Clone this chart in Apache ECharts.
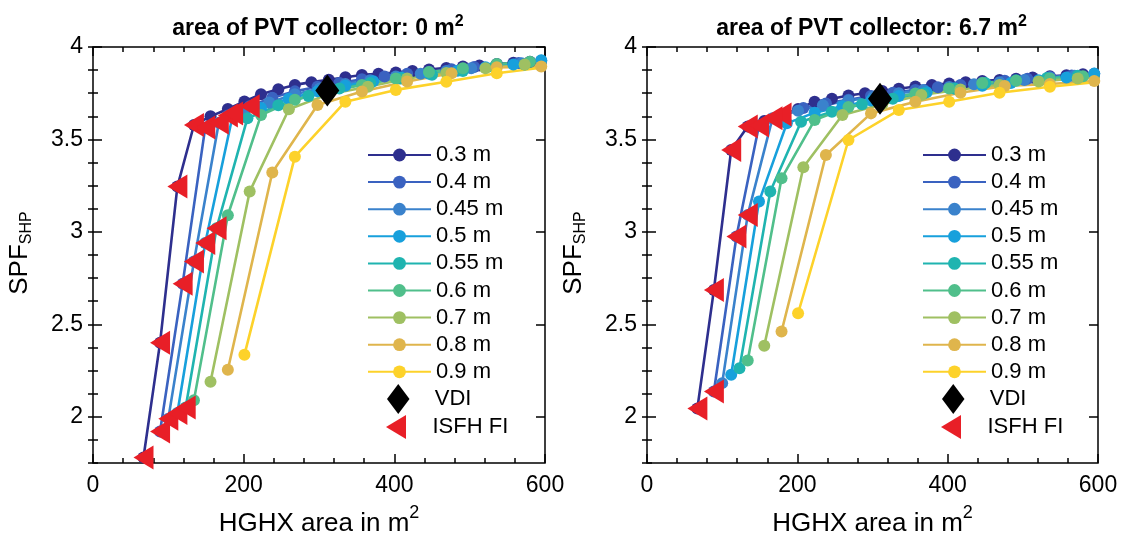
<!DOCTYPE html>
<html><head><meta charset="utf-8">
<script src="https://cdn.jsdelivr.net/npm/echarts@6/dist/echarts.min.js"></script>
<style>html,body{margin:0;padding:0;background:#fff}#c{width:1124px;height:538px}</style>
</head><body><div id="c"></div>
<script>
// ---------------- data ----------------
const spacingNames = ['0.3 m', '0.4 m', '0.45 m', '0.5 m', '0.55 m', '0.6 m', '0.7 m', '0.8 m', '0.9 m'];
const panelTitles = ['area of PVT collector: 0 m', 'area of PVT collector: 6.7 m'];
const xTickLabels = [0, 200, 400, 600];
const yTickLabels = [2, 2.5, 3, 3.5, 4];

// HGHX area (m²) per pipe spacing
const hghx03  = [67, 89, 112, 134, 156, 179, 201, 223, 246, 268, 290, 313, 335, 357, 379, 402, 424, 446, 469, 491, 513, 536, 558, 580, 603];
const hghx04  = [89, 119, 149, 179, 208, 238, 268, 298, 327, 357, 387, 417, 446, 476, 506, 536, 565, 595];
const hghx045 = [100, 134, 167, 201, 234, 268, 301, 335, 368, 402, 435, 469, 502, 536, 569, 603];
const hghx05  = [112, 149, 186, 223, 260, 298, 335, 372, 409, 446, 484, 521, 558, 595];
const hghx055 = [123, 164, 205, 246, 286, 327, 368, 409, 450, 491, 532, 573, 614];
const hghx06  = [134, 179, 223, 268, 313, 357, 402, 446, 491, 536, 580, 625];
const hghx07  = [156, 208, 260, 313, 365, 417, 469, 521, 573, 625];
const hghx08  = [179, 238, 298, 357, 417, 476, 536, 595];
const hghx09  = [201, 268, 335, 402, 469, 536, 603];

// SPF_SHP, PVT area 0 m²
const spfA0_03  = [1.78, 2.40, 3.245, 3.578, 3.625, 3.665, 3.705, 3.745, 3.772, 3.795, 3.81, 3.823, 3.836, 3.849, 3.855, 3.862, 3.87, 3.878, 3.887, 3.894, 3.90, 3.908, 3.915, 3.92, 3.926];
const spfA0_04  = [1.92, 2.72, 3.565, 3.63, 3.68, 3.725, 3.76, 3.785, 3.805, 3.825, 3.84, 3.855, 3.866, 3.88, 3.892, 3.905, 3.914, 3.925];
const spfA0_045 = [1.99, 2.84, 3.59, 3.65, 3.70, 3.745, 3.775, 3.80, 3.82, 3.84, 3.855, 3.87, 3.885, 3.90, 3.912, 3.925];
const spfA0_05  = [2.02, 2.94, 3.64, 3.67, 3.72, 3.76, 3.79, 3.815, 3.835, 3.855, 3.872, 3.89, 3.905, 3.928];
const spfA0_055 = [2.05, 3.02, 3.615, 3.685, 3.735, 3.775, 3.805, 3.83, 3.85, 3.87, 3.89, 3.905, 3.92];
const spfA0_06  = [2.09, 3.09, 3.632, 3.715, 3.76, 3.795, 3.83, 3.865, 3.885, 3.908, 3.92, 3.93];
const spfA0_07  = [2.19, 3.218, 3.663, 3.745, 3.785, 3.83, 3.86, 3.885, 3.905, 3.915];
const spfA0_08  = [2.254, 3.321, 3.686, 3.759, 3.813, 3.858, 3.89, 3.895];
const spfA0_09  = [2.335, 3.407, 3.704, 3.768, 3.812, 3.858, 3.892];

// SPF_SHP, PVT area 6.7 m²
const spfA67_03  = [2.045, 2.686, 3.443, 3.57, 3.60, 3.63, 3.665, 3.704, 3.72, 3.738, 3.75, 3.762, 3.774, 3.786, 3.795, 3.803, 3.81, 3.816, 3.822, 3.828, 3.835, 3.842, 3.847, 3.852, 3.857];
const spfA67_04  = [2.137, 2.975, 3.575, 3.635, 3.67, 3.695, 3.715, 3.735, 3.752, 3.768, 3.782, 3.795, 3.806, 3.818, 3.828, 3.838, 3.846, 3.855];
const spfA67_045 = [2.182, 3.092, 3.615, 3.655, 3.685, 3.71, 3.73, 3.75, 3.768, 3.784, 3.798, 3.81, 3.822, 3.835, 3.845, 3.855];
const spfA67_05  = [2.227, 3.164, 3.587, 3.645, 3.68, 3.71, 3.735, 3.755, 3.775, 3.79, 3.805, 3.82, 3.835, 3.856];
const spfA67_055 = [2.263, 3.218, 3.596, 3.65, 3.69, 3.72, 3.748, 3.775, 3.805, 3.82, 3.832, 3.845, 3.858];
const spfA67_06  = [2.304, 3.29, 3.605, 3.675, 3.715, 3.748, 3.775, 3.805, 3.818, 3.83, 3.842, 3.85];
const spfA67_07  = [2.384, 3.35, 3.632, 3.69, 3.74, 3.77, 3.795, 3.814, 3.83, 3.84];
const spfA67_08  = [2.461, 3.416, 3.641, 3.704, 3.753, 3.789, 3.80, 3.816];
const spfA67_09  = [2.56, 3.497, 3.659, 3.704, 3.753, 3.785, 3.812];

// VDI design point [HGHX area, SPF]
const vdiA0  = [311, 3.765];
const vdiA67 = [310, 3.72];

// ISFH FI design points
const isfhA0X  = [67, 89, 112, 134, 89, 119, 149, 179, 208, 100, 134, 167, 112, 149, 186, 123, 164];
const isfhA0Y  = [1.78, 2.40, 3.245, 3.578, 1.92, 2.72, 3.565, 3.63, 3.68, 1.99, 2.84, 3.59, 2.02, 2.94, 3.64, 2.05, 3.02];
const isfhA67X = [67, 89, 112, 134, 89, 119, 149, 179, 134, 167];
const isfhA67Y = [2.045, 2.686, 3.443, 3.57, 2.137, 2.975, 3.575, 3.635, 3.092, 3.615];

// ---------------- styles ----------------
const FONT = '"Liberation Sans", Arial, Helvetica, sans-serif';
const lineColors = ['#2e2f8e', '#3a62c0', '#3a82cc', '#17a0dc', '#1fb4b0', '#50bf8b', '#9fc062', '#dfb54c', '#fdd22a'];
const DIAMOND = 'path://M12,0 L24,16 L12,32 L0,16 Z';
const TRI_LEFT = 'path://M0,12 L20,0 L20,24 Z';
const hghxBySpacing = [hghx03, hghx04, hghx045, hghx05, hghx055, hghx06, hghx07, hghx08, hghx09];
const spfByPanel = [
  [spfA0_03, spfA0_04, spfA0_045, spfA0_05, spfA0_055, spfA0_06, spfA0_07, spfA0_08, spfA0_09],
  [spfA67_03, spfA67_04, spfA67_045, spfA67_05, spfA67_055, spfA67_06, spfA67_07, spfA67_08, spfA67_09]
];
const vdiByPanel = [vdiA0, vdiA67];
const isfhByPanel = [[isfhA0X, isfhA0Y], [isfhA67X, isfhA67Y]];
const zip = (xs, ys) => xs.map((x, i) => [x, ys[i]]);

const panelLeft = [93, 647];
const panelWidth = [452, 451];
const tickStyle = { color: '#000', width: 1.5 };

const grid = [];
const xAxis = [];
const yAxis = [];
for (let p = 0; p < 2; p++) {
  grid.push({ left: panelLeft[p], top: 47, width: panelWidth[p], height: 416, show: true,
    borderColor: '#000', borderWidth: 1.5, backgroundColor: 'transparent' });
}
for (let p = 0; p < 2; p++) {
  // overlay grid: 2 .. 4 maps onto y = 47 .. 417
  grid.push({ left: panelLeft[p], top: 47, width: panelWidth[p], height: 370, show: false });
}
for (let p = 0; p < 2; p++) {
  ['bottom', 'top'].forEach(pos => xAxis.push({
    type: 'value', gridIndex: p, position: pos, min: xTickLabels[0], max: xTickLabels[xTickLabels.length - 1], interval: 200,
    axisLine: { show: false }, splitLine: { show: false },
    axisTick: { show: true, inside: true, length: 9, lineStyle: tickStyle },
    minorTick: { show: true, splitNumber: 5, length: 5, lineStyle: tickStyle },
    axisLabel: { show: pos === 'bottom', fontSize: 23, color: '#000', fontFamily: FONT, margin: 11 }
  }));
  ['left', 'right'].forEach(pos => yAxis.push({
    type: 'value', gridIndex: p, position: pos, min: 1.75, max: 4, interval: 0.125,
    axisLine: { show: false }, splitLine: { show: false },
    axisTick: { show: true, inside: true, length: 5, lineStyle: tickStyle },
    axisLabel: { show: false }
  }));
}
for (let p = 0; p < 2; p++) {
  xAxis.push({ type: 'value', gridIndex: 2 + p, min: 0, max: 600, show: false });
  ['left', 'right'].forEach(pos => yAxis.push({
    type: 'value', gridIndex: 2 + p, position: pos, min: yTickLabels[0], max: yTickLabels[yTickLabels.length - 1], interval: 0.5,
    axisLine: { show: false }, splitLine: { show: false },
    axisTick: { show: true, inside: true, length: 9, lineStyle: tickStyle },
    axisLabel: { show: pos === 'left', fontSize: 23, color: '#000', fontFamily: FONT, margin: 10 }
  }));
}

const series = [];
for (let p = 0; p < 2; p++) {
  const xi = p * 2, yi = p * 2;
  spacingNames.forEach((name, s) => {
    series.push({
      type: 'line', name, xAxisIndex: xi, yAxisIndex: yi, z: 3,
      data: zip(hghxBySpacing[s], spfByPanel[p][s]),
      symbol: 'circle', symbolSize: 12, showSymbol: true, showAllSymbol: true,
      lineStyle: { width: 2.6, color: lineColors[s] },
      itemStyle: { color: lineColors[s], opacity: 1 },
      clip: true, animation: false, silent: true
    });
  });
  series.push({
    type: 'scatter', name: 'VDI', xAxisIndex: xi, yAxisIndex: yi, z: 10,
    data: [vdiByPanel[p]], symbol: DIAMOND, symbolSize: [24, 32],
    itemStyle: { color: '#000', opacity: 1 }, animation: false, silent: true
  });
  series.push({
    type: 'scatter', name: 'ISFH FI', xAxisIndex: xi, yAxisIndex: yi, z: 11,
    data: zip(isfhByPanel[p][0], isfhByPanel[p][1]), symbol: TRI_LEFT, symbolSize: [20, 24],
    itemStyle: { color: '#e81f27', opacity: 1 }, animation: false, silent: true
  });
}

const legendText = { fontSize: 22, color: '#000', fontFamily: FONT, lineHeight: 22 };
const legend = [];
[367, 922].forEach(left => {
  legend.push({ orient: 'vertical', left, top: 144, padding: 0, itemWidth: 63, itemHeight: 16, itemGap: 5.1,
    selectedMode: false, data: spacingNames, textStyle: legendText });
  // the path icons keep their aspect, so their bounding box starts inside the 63 px slot
  legend.push({ orient: 'vertical', left: left + 20, top: 384, padding: 0, itemWidth: 63, itemHeight: 30,
    selectedMode: false, itemStyle: { opacity: 1 },
    data: [{ name: 'VDI', icon: DIAMOND, itemStyle: { color: '#000', opacity: 1 } }], textStyle: legendText });
  legend.push({ orient: 'vertical', left: left + 19, top: 415, padding: 0, itemWidth: 63, itemHeight: 24,
    selectedMode: false, itemStyle: { opacity: 1 },
    data: [{ name: 'ISFH FI', icon: TRI_LEFT, itemStyle: { color: '#e81f27', opacity: 1 } }], textStyle: legendText });
});

const supRich = (size, bold, mainLH, supLH) => ({
  a: { fontSize: size, fontWeight: bold ? 'bold' : 'normal', fontFamily: FONT, lineHeight: mainLH, fill: '#000' },
  b: { fontSize: Math.round(size * 0.68), fontWeight: bold ? 'bold' : 'normal', fontFamily: FONT, lineHeight: supLH, verticalAlign: 'top', fill: '#000' }
});
const graphic = [];
for (let p = 0; p < 2; p++) {
  const cx = panelLeft[p] + panelWidth[p] / 2;
  graphic.push({ type: 'text', x: cx - 1, y: 29, silent: true,
    style: { text: '{a|' + panelTitles[p] + '}{b|2}', align: 'center', verticalAlign: 'middle', rich: supRich(23, true, 30, 15) } });
  graphic.push({ type: 'text', x: cx, y: 524, silent: true,
    style: { text: '{a|HGHX area in m}{b|2}', align: 'center', verticalAlign: 'middle', rich: supRich(26, false, 40, 16) } });
  graphic.push({ type: 'text', x: panelLeft[p] - 73, y: 253, rotation: Math.PI / 2, silent: true,
    style: { text: '{a|SPF}{b|SHP}', align: 'center', verticalAlign: 'middle',
      rich: {
        a: { fontSize: 26, fontFamily: FONT, lineHeight: 30, fill: '#000' },
        b: { fontSize: 16, fontFamily: FONT, lineHeight: 18, verticalAlign: 'bottom', fill: '#000' }
      } } });
}

const chart = echarts.init(document.getElementById('c'), null, { renderer: 'canvas' });
chart.setOption({
  animation: false,
  backgroundColor: '#fff',
  textStyle: { fontFamily: FONT },
  grid, xAxis, yAxis, series, legend, graphic
});
</script>
</body></html>
